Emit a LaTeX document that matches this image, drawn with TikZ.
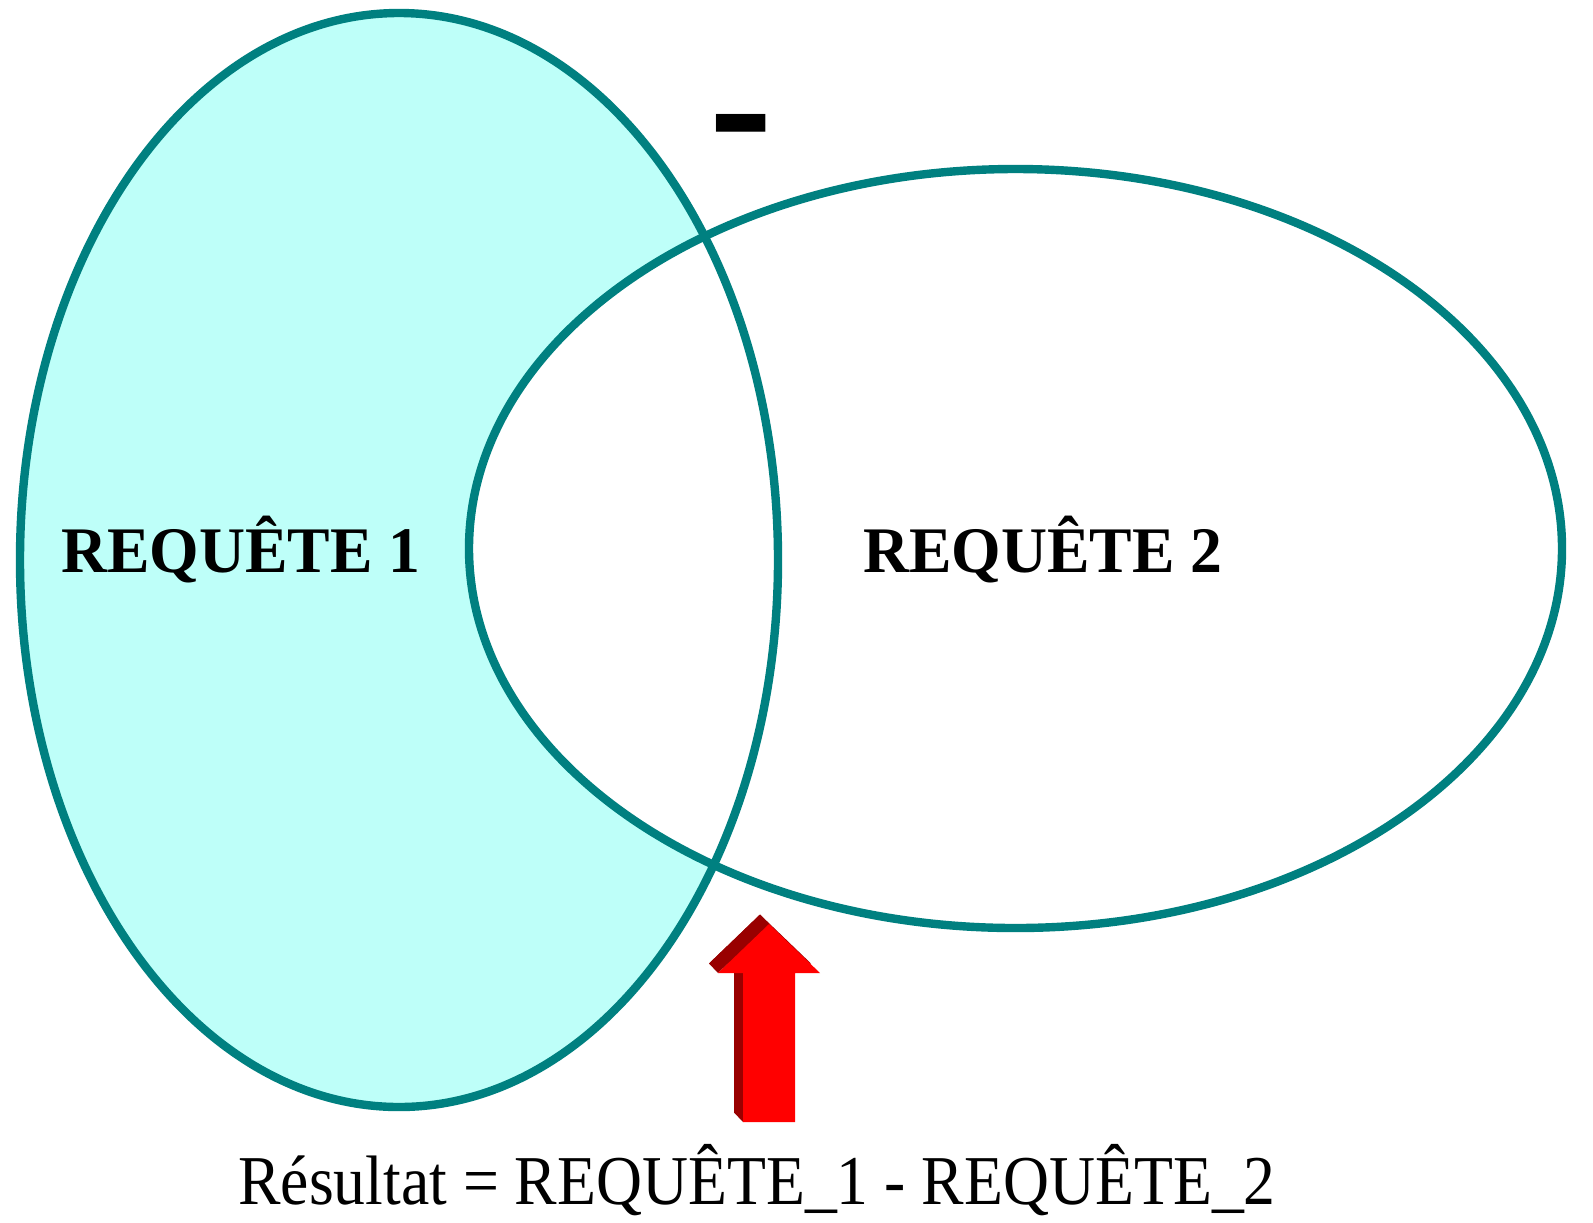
\documentclass[tikz,border=0pt]{standalone}
\usepackage{fontspec}
\setmainfont{Liberation Serif}
\usepackage{tikz}
\usetikzlibrary{shapes.geometric}

\definecolor{setline}{RGB}{0,128,128}
\definecolor{setfill}{RGB}{190,255,249}
\definecolor{arrowred}{RGB}{255,0,0}
\definecolor{arrowdark}{RGB}{153,0,0}

\begin{document}
\begin{tikzpicture}[
   x=0.5pt, y=-0.5pt,
   venn/.style={ellipse,line width=4.2pt,inner sep=0pt},
   vennA/.style={venn,minimum width=379pt,minimum height=547pt},
   vennB/.style={venn,minimum width=546.5pt,minimum height=379.5pt},
   setlabel/.style={anchor=base,inner sep=0pt,xscale=0.98,font=\fontsize{32.5pt}{39pt}\selectfont\bfseries},
   resultlabel/.style={anchor=base,inner sep=0pt,xscale=0.91,font=\fontsize{35pt}{42pt}\selectfont},
   oplabel/.style={anchor=base,inner sep=0pt,yscale=1.1,font=\fontsize{95pt}{100pt}\selectfont\bfseries},
   arrowfront/.style={fill=arrowred},
   arrowside/.style={fill=arrowdark}]
\fill[white] (0,0) rectangle (1593,1222);
% the two sets
\node[vennA,fill=setfill] (req1) at (399,560) {};
\node[vennB,fill=white,draw=setline] (req2) at (1015.5,548.5) {};
\node[vennA,draw=setline] (req1 border) at (req1) {};
\node[setlabel] (name1) at (241,572) {REQUÊTE 1};
\node[setlabel] (name2) at (1043,572) {REQUÊTE 2};
\node[oplabel] (op) at (741,172) {-};
% the arrow
\begin{scope}[shift={(-9,-9.5)}]
\fill[arrowside] (769,924) -- (820,973) -- (795,973) -- (795,1122) -- (743,1122) -- (743,973) -- (718,973) -- cycle;
\end{scope}
\fill[arrowside] (718,973) -- (769,924) -- (760,914.5) -- (709,963.5) -- cycle;
\fill[arrowside] (743,973) -- (743,1122) -- (734,1112.5) -- (734,963.5) -- cycle;
\fill[arrowfront] (769,924) -- (820,973) -- (795,973) -- (795,1122) -- (743,1122) -- (743,973) -- (718,973) -- cycle;
\node[resultlabel] (res) at (757,1204) {Résultat = REQUÊTE\_1 - REQUÊTE\_2};
\end{tikzpicture}
\end{document}
